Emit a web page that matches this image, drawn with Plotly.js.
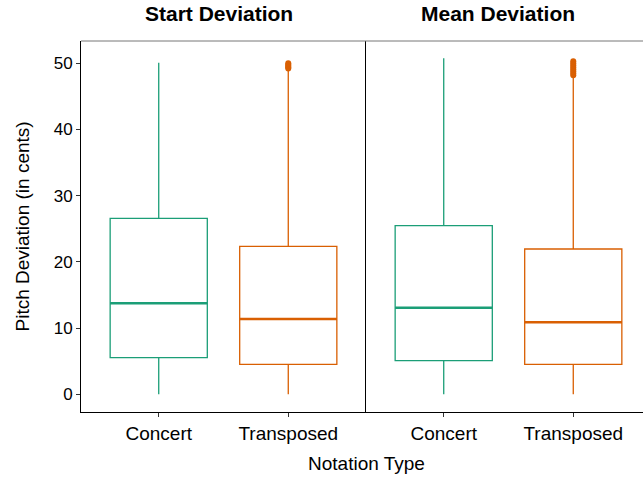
<!DOCTYPE html>
<html>
<head>
<meta charset="utf-8">
<script src="https://cdn.plot.ly/plotly-3.0.1.min.js"></script>
<style>
  html, body { margin: 0; padding: 0; overflow: hidden; background: #fff; }
  #chart { width: 660px; height: 481px; }
</style>
</head>
<body>
<div id="chart"></div>
<script>
// ---- Data ----
const categories = ['Concert', 'Transposed'];
const panelTitles = ['Start Deviation', 'Mean Deviation'];
const colors = ['#1B9E77', '#D95F02'];

const startLower  = [0, 0];
const startQ1     = [5.53, 4.53];
const startMedian = [13.75, 11.37];
const startQ3     = [26.59, 22.36];
const startUpper  = [50.1, 49.0];
const startTransposedOutliers = [49.2, 49.4, 49.6, 49.8, 50.0];

const meanLower  = [0, 0];
const meanQ1     = [5.08, 4.53];
const meanMedian = [13.08, 10.88];
const meanQ3     = [25.47, 21.95];
const meanUpper  = [50.75, 48.0];
const meanTransposedOutliers = [48.2, 48.5, 48.8, 49.1, 49.4, 49.7, 50.0, 50.3];

const yTicks = [0, 10, 20, 30, 40, 50];

// ---- Build traces ----
const traces = [];
function addPanel(xa, ya, lower, q1, med, q3, upper, outliers) {
  categories.forEach((cat, i) => {
    traces.push({
      type: 'box', xaxis: xa, yaxis: ya, x: [i],
      q1: [q1[i]], median: [med[i]], q3: [q3[i]],
      lowerfence: [lower[i]], upperfence: [upper[i]],
      width: 0.75, whiskerwidth: 0, boxpoints: false,
      line: { color: colors[i], width: 1.3 },
      fillcolor: 'rgba(0,0,0,0)', hoverinfo: 'skip', showlegend: false
    });
    // thicker median line
    traces.push({
      type: 'box', xaxis: xa, yaxis: ya, x: [i],
      q1: [med[i]], median: [med[i]], q3: [med[i]],
      lowerfence: [med[i]], upperfence: [med[i]],
      width: 0.75, whiskerwidth: 0, boxpoints: false,
      line: { color: colors[i], width: 2.6 },
      fillcolor: 'rgba(0,0,0,0)', hoverinfo: 'skip', showlegend: false
    });
  });
  traces.push({
    type: 'scatter', mode: 'markers', xaxis: xa, yaxis: ya,
    x: outliers.map(() => 1), y: outliers,
    marker: { color: colors[1], size: 6 },
    hoverinfo: 'skip', showlegend: false, cliponaxis: false
  });
}
addPanel('x', 'y', startLower, startQ1, startMedian, startQ3, startUpper, startTransposedOutliers);
addPanel('x2', 'y2', meanLower, meanQ1, meanMedian, meanQ3, meanUpper, meanTransposedOutliers);

const font = 'Liberation Sans, Arial, Helvetica, sans-serif';
const yRange = [-2.67, 53.37];
const xRange = [-0.6, 1.6];

const xCommon = {
  range: xRange, tickmode: 'array', tickvals: [0, 1], ticktext: categories,
  ticks: 'outside', ticklen: 4, tickwidth: 1, tickcolor: '#333',
  showline: true, linecolor: '#000', linewidth: 1,
  showgrid: false, zeroline: false,
  tickfont: { family: font, size: 19, color: '#000' }
};

const layout = {
  width: 660, height: 481,
  margin: { l: 81, r: 9, t: 41, b: 69 },
  paper_bgcolor: '#fff', plot_bgcolor: '#fff',
  boxmode: 'overlay',
  showlegend: false,
  xaxis: Object.assign({}, xCommon, { domain: [0, 0.5], anchor: 'y' }),
  xaxis2: Object.assign({}, xCommon, { domain: [0.5, 1], anchor: 'y2' }),
  yaxis: {
    range: yRange, tickvals: yTicks, ticktext: yTicks.map(String),
    ticks: 'outside', ticklen: 4, tickwidth: 1, tickcolor: '#333',
    showline: true, linecolor: '#000', linewidth: 1,
    showgrid: false, zeroline: false,
    tickfont: { family: font, size: 17, color: '#000' }, anchor: 'x'
  },
  yaxis2: {
    range: yRange, showticklabels: false, ticks: '',
    showline: true, linecolor: '#000', linewidth: 1,
    showgrid: false, zeroline: false, anchor: 'x2'
  },
  shapes: [
    { type: 'line', xref: 'paper', yref: 'paper', x0: 0, x1: 1, y0: 1, y1: 1,
      line: { color: '#777', width: 1 } }
  ],
  annotations: [
    { text: '<b>' + panelTitles[0] + '</b>', xref: 'paper', yref: 'paper',
      x: 0.242, y: 1.073, xanchor: 'center', yanchor: 'middle', showarrow: false,
      font: { family: font, size: 21, color: '#000' } },
    { text: '<b>' + panelTitles[1] + '</b>', xref: 'paper', yref: 'paper',
      x: 0.732, y: 1.073, xanchor: 'center', yanchor: 'middle', showarrow: false,
      font: { family: font, size: 21, color: '#000' } },
    { text: 'Notation Type', xref: 'paper', yref: 'paper',
      x: 0.5, y: -0.14, xanchor: 'center', yanchor: 'middle', showarrow: false,
      font: { family: font, size: 19, color: '#000' } },
    { text: 'Pitch Deviation (in cents)', xref: 'paper', yref: 'paper',
      x: -0.1035, y: 0.5, xanchor: 'center', yanchor: 'middle', showarrow: false,
      textangle: -90, font: { family: font, size: 19, color: '#000' } }
  ]
};

Plotly.newPlot('chart', traces, layout, { staticPlot: true, displayModeBar: false });
</script>
</body>
</html>
